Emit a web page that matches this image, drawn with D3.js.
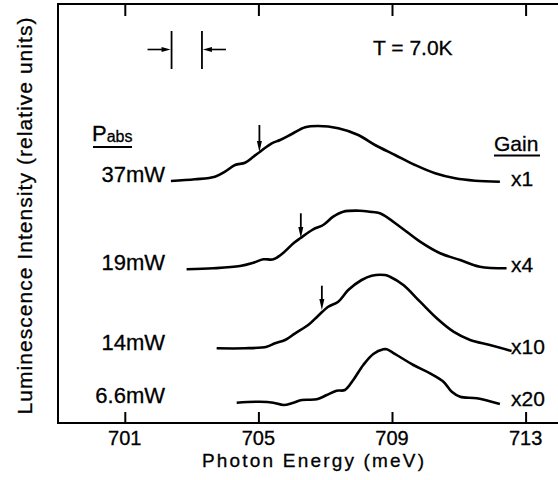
<!DOCTYPE html>
<html lang="en">
  <head>
    <meta charset="utf-8">
    <title>Luminescence spectra</title>
    <script src="https://d3js.org/d3.v7.min.js"></script>
    <style>
      body { margin: 0; background: #fff; }
      svg text { font-family: "Liberation Sans", Arial, sans-serif; fill: #000; stroke: #000; stroke-width: 0.3px; }
    </style>
  </head>
  <body>
    <script>
      // photon energy (meV) and relative intensity (stacked, arbitrary units)
      const e37 = [702.38, 703.10, 703.70, 704.00, 704.30, 704.60, 704.85, 705.05, 705.40, 705.65, 706.00, 706.40, 706.79, 707.39, 707.99, 708.49, 709.09, 709.69, 710.29, 710.89, 711.49, 712.23]
      const i37 = [242, 243.7, 246.3, 251.3, 258, 260.3, 266.3, 271.3, 279.7, 283, 289, 295.7, 297, 294.7, 288, 278, 268, 258, 249.7, 244.7, 242.3, 241.3]
      const e19 = [702.85, 703.65, 704.45, 704.85, 705.15, 705.45, 705.75, 706.05, 706.25, 706.64, 706.94, 707.24, 707.54, 708.04, 708.34, 708.64, 709.24, 709.84, 710.44, 711.04, 711.63, 712.43]
      const i19 = [153.7, 154.7, 157, 160.3, 163.7, 163.7, 170.3, 179.7, 184.7, 193.7, 198, 206.3, 211.3, 212.3, 211.3, 209.7, 196.3, 181.3, 169.7, 163, 156.3, 154.7]
      const e14 = [703.75, 704.60, 705.25, 705.50, 705.80, 706.10, 706.49, 706.79, 707.09, 707.39, 707.69, 708.09, 708.39, 708.79, 708.94, 709.34, 709.84, 710.34, 710.84, 711.34, 711.93, 712.58]
      const i14 = [74.7, 74.7, 76.3, 79.7, 83, 89.7, 98, 107.3, 116.3, 121.3, 133, 143, 147.3, 148, 146.3, 138, 121.3, 104.7, 91.3, 83, 78, 72]
      const e66 = [704.35, 705.05, 705.45, 705.75, 706.05, 706.30, 706.75, 707.05, 707.34, 707.59, 707.84, 708.14, 708.44, 708.74, 708.84, 709.14, 709.64, 710.14, 710.54, 710.79, 711.04, 711.54, 712.23]
      const i66 = [20.3, 21.3, 20.3, 18, 20.3, 23, 23.7, 28, 32.3, 33, 43, 58, 69, 73.7, 73.7, 68, 58, 49.7, 41.3, 31.3, 26.3, 24.7, 19]

      const powers = ['37mW', '19mW', '14mW', '6.6mW']
      const gains = ['x1', 'x4', 'x10', 'x20']
      // arrow markers: energy, top of arrow, tip on curve
      const arrowE = [705.03, 706.27, 706.90]
      const arrowTop = [298, 209.7, 137.3]
      const arrowTip = [271, 185, 113]
      // spectral resolution bars
      const resE = [702.40, 703.31]
      const xTicks = [701, 705, 709, 713]

      const w = 558
      const h = 480
      const padLeft = 58
      const padTop = 4
      const padBottom = 423

      const x = d3.scaleLinear().domain([699, 714]).range([padLeft, padLeft + 501])
      const y = d3.scaleLinear().domain([0, 419]).range([padBottom, padTop])

      const svg = d3.select('body')
        .append('svg')
        .attr('width', w)
        .attr('height', h)

      const series = [[e37, i37], [e19, i19], [e14, i14], [e66, i66]]
        .map(s => s[0].map((e, j) => [e, s[1][j]]))

      const line = d3.line()
        .x(d => x(d[0]))
        .y(d => y(d[1]))
        .curve(d3.curveCatmullRom)

      // frame (open on the right)
      svg.append('path')
        .attr('d', `M${w},${padTop}H${padLeft}V${padBottom}H${w}`)
        .attr('fill', 'none')
        .attr('stroke', '#000')
        .attr('stroke-width', 2)

      // axes, ticks pointing inward
      svg.append('g')
        .attr('transform', 'translate(0,' + padBottom + ')')
        .call(d3.axisTop(x).tickValues(xTicks).tickSize(11).tickFormat(''))
        .call(g => g.select('.domain').remove())
        .call(g => g.selectAll('line').attr('stroke-width', 2))
      svg.append('g')
        .attr('transform', 'translate(0,' + padTop + ')')
        .call(d3.axisBottom(x).tickValues(xTicks).tickSize(12).tickFormat(''))
        .call(g => g.select('.domain').remove())
        .call(g => g.selectAll('line').attr('stroke-width', 2))

      svg.selectAll('.xlab')
        .data(xTicks)
        .enter()
        .append('text')
        .attr('class', 'xlab')
        .attr('x', d => x(d))
        .attr('y', 445)
        .attr('text-anchor', 'middle')
        .style('font-size', '20px')
        .text(d => d)

      svg.append('text')
        .attr('x', 313)
        .attr('y', 467)
        .attr('text-anchor', 'middle')
        .style('font-size', '19px')
        .attr('textLength', 222)
        .text('Photon Energy (meV)')

      svg.append('text')
        .attr('transform', 'translate(32,216) rotate(-90)')
        .attr('text-anchor', 'middle')
        .style('font-size', '21px')
        .attr('textLength', 397)
        .text('Luminescence Intensity (relative units)')

      // spectra
      svg.selectAll('.spec')
        .data(series)
        .enter()
        .append('path')
        .attr('class', 'spec')
        .attr('d', line)
        .attr('fill', 'none')
        .attr('stroke', '#000')
        .attr('stroke-width', 2.6)
        .attr('stroke-linejoin', 'round')

      // down arrows on the spectra
      arrowE.forEach((e, k) => {
        svg.append('line')
          .attr('x1', x(e)).attr('x2', x(e))
          .attr('y1', y(arrowTop[k])).attr('y2', y(arrowTip[k]) - 6)
          .attr('stroke', '#000').attr('stroke-width', 1.8)
        svg.append('path')
          .attr('d', `M${x(e) - 2.5},${y(arrowTip[k]) - 11}L${x(e) + 2.5},${y(arrowTip[k]) - 11}L${x(e)},${y(arrowTip[k])}Z`)
          .attr('fill', '#000')
      })

      // resolution marker
      resE.forEach((e, k) => {
        const xx = x(e)
        const dir = k === 0 ? 1 : -1
        svg.append('line')
          .attr('x1', xx).attr('x2', xx).attr('y1', 31).attr('y2', 69)
          .attr('stroke', '#000').attr('stroke-width', 1.8)
        svg.append('line')
          .attr('x1', xx - dir * 24).attr('x2', xx - dir * 6).attr('y1', 49.5).attr('y2', 49.5)
          .attr('stroke', '#000').attr('stroke-width', 1.6)
        svg.append('path')
          .attr('d', `M${xx - dir * 10},${47}L${xx - dir * 10},${52}L${xx - dir * 1},${49.5}Z`)
          .attr('fill', '#000')
      })

      svg.append('text')
        .attr('x', 373)
        .attr('y', 55)
        .style('font-size', '21px')
        .text('T = 7.0K')

      // P_abs header
      const pabs = svg.append('text').attr('x', 92).attr('y', 141).style('font-size', '22px')
      pabs.append('tspan').text('P')
      pabs.append('tspan').attr('dy', 1).style('font-size', '16px').text('abs')
      svg.append('line')
        .attr('x1', 93).attr('x2', 132).attr('y1', 147).attr('y2', 147)
        .attr('stroke', '#000').attr('stroke-width', 1.8)

      svg.append('text')
        .attr('x', 494)
        .attr('y', 151)
        .style('font-size', '21px')
        .text('Gain')
      svg.append('line')
        .attr('x1', 494).attr('x2', 540).attr('y1', 155.5).attr('y2', 155.5)
        .attr('stroke', '#000').attr('stroke-width', 1.8)

      const powerY = [182, 270, 350, 403]
      svg.selectAll('.pw')
        .data(powers)
        .enter()
        .append('text')
        .attr('class', 'pw')
        .attr('x', 165)
        .attr('y', (d, k) => powerY[k])
        .attr('text-anchor', 'end')
        .style('font-size', '22px')
        .text(d => d)

      const gainY = [186, 272, 354, 406]
      svg.selectAll('.gn')
        .data(gains)
        .enter()
        .append('text')
        .attr('class', 'gn')
        .attr('x', 511)
        .attr('y', (d, k) => gainY[k])
        .style('font-size', '21px')
        .text(d => d)
    </script>
  </body>
</html>
